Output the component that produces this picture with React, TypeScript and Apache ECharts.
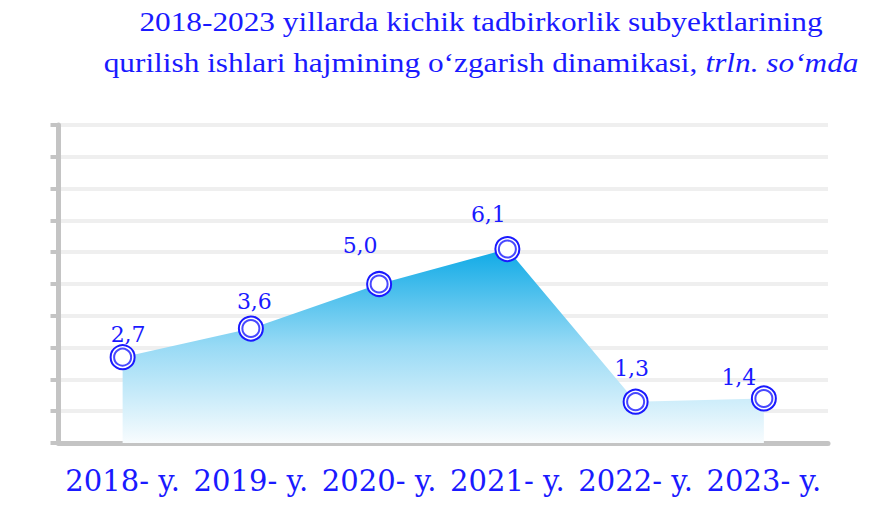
import React, { useEffect, useRef } from "react";
import * as echarts from "echarts";

const categories = ["2018- y.", "2019- y.", "2020- y.", "2021- y.", "2022- y.", "2023- y."];
const values = [2.7, 3.6, 5.0, 6.1, 1.3, 1.4];
const valueLabels = ["2,7", "3,6", "5,0", "6,1", "1,3", "1,4"];
const titleLine1 = "2018-2023 yillarda kichik tadbirkorlik subyektlarining";
const titleLine2 = "qurilish ishlari hajmining o‘zgarish dinamikasi, ";
const titleUnit = "trln. so‘mda";

// label offsets (style only)
const labelOffsets: [number, number][] = [
  [5.5, 6],
  [3.5, 1.5],
  [-19, -10],
  [-19, -5.5],
  [-4, -4.5],
  [-25, 8],
];

const BLUE = "#1a1aff";

export default function App() {
  const ref = useRef<HTMLDivElement>(null);
  useEffect(() => {
    if (!ref.current) return;
    const chart = echarts.init(ref.current, null, { renderer: "svg" });
    const labelFont = "DejaVu Serif";
    chart.setOption({
      animation: false,
      backgroundColor: "#ffffff",
      graphic: [
        {
          type: "text",
          x: 481,
          y: 1,
          scaleX: 1.16,
          style: {
            text: titleLine1 + "\n" + titleLine2 + "{i|" + titleUnit + "}",
            fill: BLUE,
            fontFamily: "Liberation Serif",
            fontSize: 27,
            lineHeight: 41,
            align: "center",
            rich: {
              i: {
                fontStyle: "italic",
                fontFamily: "Liberation Serif",
                fontSize: 27,
                fill: BLUE,
                lineHeight: 41,
              },
            },
          },
        },
      ],
      grid: { left: 58.5, right: 894 - 828, top: 125, bottom: 526 - 443, containLabel: false },
      xAxis: {
        type: "category",
        data: categories,
        boundaryGap: true,
        axisLine: { show: true, lineStyle: { color: "#c4c4c4", width: 5 } },
        axisTick: { show: false },
        axisLabel: {
          color: BLUE,
          fontFamily: labelFont,
          fontSize: 29,
          margin: 23,
          interval: 0,
        },
        splitLine: { show: false },
      },
      yAxis: {
        type: "value",
        min: 0,
        max: 10,
        interval: 1,
        axisLine: { show: true, lineStyle: { color: "#c4c4c4", width: 5 } },
        axisTick: { show: true, length: 8, lineStyle: { color: "#c4c4c4", width: 4 } },
        axisLabel: { show: false },
        splitLine: { show: true, lineStyle: { color: "#efefef", width: 4 } },
      },
      series: [
        {
          type: "line",
          data: values.map((v, i) => ({
            value: v,
            label: { offset: labelOffsets[i] },
          })),
          symbol: "circle",
          symbolSize: 24,
          itemStyle: { color: "#ffffff", borderColor: BLUE, borderWidth: 2 },
          lineStyle: { width: 0, opacity: 0 },
          areaStyle: {
            opacity: 1,
            color: new echarts.graphic.LinearGradient(0, 0, 0, 1, [
              { offset: 0, color: "#0eaae6" },
              { offset: 0.5, color: "#98daf5" },
              { offset: 1, color: "#f8fcfe" },
            ]),
          },
          label: {
            show: true,
            position: "top",
            distance: 5,
            color: BLUE,
            fontFamily: labelFont,
            fontSize: 22,
            formatter: (p: any) => valueLabels[p.dataIndex],
          },
          z: 2,
        },
        {
          type: "scatter",
          data: values,
          symbol: "circle",
          symbolSize: 17,
          itemStyle: { color: "#ffffff", borderColor: BLUE, borderWidth: 2 },
          z: 3,
          silent: true,
        },
      ],
    });
    return () => chart.dispose();
  }, []);
  return <div ref={ref} style={{ width: 894, height: 526, position: "absolute", left: 0, top: 0 }} />;
}
